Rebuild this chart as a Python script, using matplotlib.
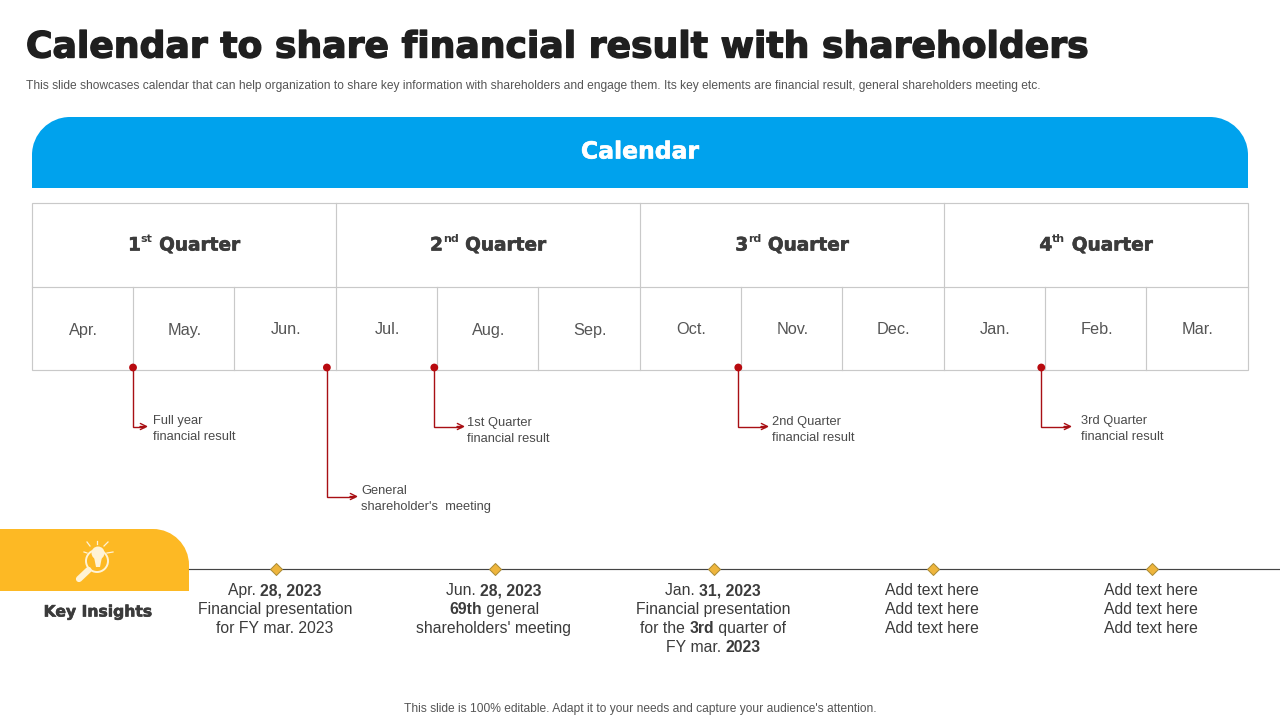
import matplotlib
matplotlib.use("Agg")
import matplotlib.pyplot as plt
import matplotlib.patheffects as pe
from matplotlib.patches import Circle, PathPatch, Polygon, Rectangle
from matplotlib.path import Path

plt.rcParams["font.family"] = ["Liberation Sans", "DejaVu Sans"]

title = "Calendar to share financial result with shareholders"
subtitle = ("This slide showcases calendar that can help organization to share key information with "
            "shareholders and engage them. Its key elements are financial result, general shareholders meeting etc.")
footer = "This slide is 100% editable. Adapt it to your needs and capture your audience's attention."

quarters = [("1", "st"), ("2", "nd"), ("3", "rd"), ("4", "th")]
months = ["Apr.", "May.", "Jun.", "Jul.", "Aug.", "Sep.", "Oct.", "Nov.", "Dec.", "Jan.", "Feb.", "Mar."]

# position of each event counted in months from the start of April
event_months = [0.997, 2.91, 3.97, 6.97, 9.96]
event_labels = [
    "Full year\nfinancial result",
    "General\nshareholder's  meeting",
    "1st Quarter\nfinancial result",
    "2nd Quarter\nfinancial result",
    "3rd Quarter\nfinancial result",
]

# (text, bold) runs for each line under the timeline
insights = [
    [[("Apr. ", False), ("28, 2023", True)],
     [("Financial presentation", False)],
     [("for FY mar. 2023", False)]],
    [[("Jun. ", False), ("28, 2023", True)],
     [("69th", True), (" general", False)],
     [("shareholders' meeting", False)]],
    [[("Jan. ", False), ("31, 2023", True)],
     [("Financial presentation", False)],
     [("for the ", False), ("3rd", True), (" quarter of", False)],
     [("FY mar. ", False), ("2023", True)]],
    [[("Add text here", False)], [("Add text here", False)], [("Add text here", False)]],
    [[("Add text here", False)], [("Add text here", False)], [("Add text here", False)]],
]

BLUE = "#00a2ed"
YELLOW = "#fdb924"
GRID = "#c9c9c9"
DARK = "#3b3b3b"
RED = "#a80f14"
ICON = "#fff3d6"
WIDE = ["DejaVu Sans"]

fig = plt.figure(figsize=(12.8, 7.2), dpi=100)
ax = fig.add_axes([0, 0, 1, 1])
ax.set_xlim(0, 1280)
ax.set_ylim(720, 0)
ax.axis("off")


def px(size):
    return size * 0.72


def heavy(color, width=0.45):
    return [pe.withStroke(linewidth=width, foreground=color)]


def runs_line(cx, y, runs, size, color=DARK):
    # centred line made of normal and bold pieces, y is the baseline
    renderer = fig.canvas.get_renderer()
    pieces = []
    for txt, bold in runs:
        t = ax.text(0, y, txt.replace(" ", "\u00a0"), fontsize=px(size), color=color,
                    fontweight="bold" if bold else "normal", va="baseline", ha="left")
        w = t.get_window_extent(renderer).width
        pieces.append((t, w))
    x = cx - sum(w for _, w in pieces) / 2
    for t, w in pieces:
        t.set_x(x)
        x += w


def tab(x0, x1, y0, y1, r, color, both=True):
    k = 0.5523 * r
    verts = [(x0, y1)]
    codes = [Path.MOVETO]
    if both:
        verts += [(x0, y0 + r), (x0, y0 + r - k), (x0 + r - k, y0), (x0 + r, y0)]
        codes += [Path.LINETO, Path.CURVE4, Path.CURVE4, Path.CURVE4]
    else:
        verts += [(x0, y0)]
        codes += [Path.LINETO]
    verts += [(x1 - r, y0), (x1 - r + k, y0), (x1, y0 + r - k), (x1, y0 + r), (x1, y1), (x0, y1)]
    codes += [Path.LINETO, Path.CURVE4, Path.CURVE4, Path.CURVE4, Path.LINETO, Path.CLOSEPOLY]
    ax.add_patch(PathPatch(Path(verts, codes), facecolor=color, edgecolor="none"))


# header texts
ax.text(26, 47.5, title, fontsize=px(36.15), fontweight="bold", family=WIDE, color="#1f1f1f", va="center", ha="left",
        path_effects=heavy("#1f1f1f", 1.0))
ax.text(26, 85.5, subtitle, fontsize=px(11.97), color="#555555", va="center", ha="left")
tab(32, 1248, 117, 188, 38, BLUE)
ax.text(640, 152, "Calendar", fontsize=px(23.5), fontweight="bold", family=WIDE, color="white",
        va="center", ha="center", path_effects=heavy("white"))

# calendar table
left, right = 32, 1248
top, mid, bottom = 203.2, 286.7, 370.2
month_w = (right - left) / len(months)
ax.add_patch(Rectangle((left, top), right - left, bottom - top, fill=False, edgecolor=GRID, lw=0.85))
ax.plot([left, right], [mid, mid], color=GRID, lw=0.85)
for i, month in enumerate(months):
    x = left + i * month_w
    if i > 0:
        ax.plot([x - 0.4, x - 0.4], [top if i % 3 == 0 else mid, bottom], color=GRID, lw=0.85)
    ax.text(x + month_w / 2 + 0.5, 334.5, month, fontsize=px(16.2), color="#555555", va="baseline", ha="center")

renderer = fig.canvas.get_renderer()
for i, (num, sup) in enumerate(quarters):
    cx = left + (i + 0.5) * 3 * month_w
    a = ax.text(0, 250.5, num, fontsize=px(18.5), fontweight="bold", family=WIDE, color=DARK, va="baseline", ha="left",
                path_effects=heavy(DARK))
    b = ax.text(0, 242.5, sup, fontsize=px(11), fontweight="bold", family=WIDE, color=DARK, va="baseline", ha="left")
    c = ax.text(0, 250.5, "\u00a0Quarter", fontsize=px(18.5), fontweight="bold", family=WIDE, color=DARK,
                va="baseline", ha="left", path_effects=heavy(DARK))
    wa = a.get_window_extent(renderer).width
    wb = b.get_window_extent(renderer).width
    wc = c.get_window_extent(renderer).width
    x = cx - (wa + wb + wc) / 2
    a.set_x(x)
    b.set_x(x + wa)
    c.set_x(x + wa + wb)

# event callouts
drop_y = [426.5, 496.5, 426.5, 426.5, 426.5]
label_x = [153, 361, 467, 772, 1081]
label_y = [429, 499, 431, 430, 429]
arrow_end = [148, 358, 465, 769, 1072]
for m, text, dy, lx, ly, ax_end in zip(event_months, event_labels, drop_y, label_x, label_y, arrow_end):
    x = left + m * month_w
    ax.plot([x, x, ax_end - 4], [367.5, dy, dy], color=RED, lw=1.0, solid_joinstyle="miter")
    ax.annotate("", xy=(ax_end, dy), xytext=(ax_end - 8, dy),
                arrowprops=dict(arrowstyle="->", color=RED, lw=1.0, mutation_scale=11, shrinkA=0, shrinkB=0))
    ax.add_patch(Circle((x, 367.5), 3.9, facecolor="#b80a0f", edgecolor="none", zorder=5))
    ax.text(lx, ly, text, fontsize=px(12.9), color="#4a4a4a", va="center", ha="left", linespacing=1.38)

# key insights tab with its icon
tab(0, 189, 529, 591, 36, YELLOW, both=False)
ax.add_patch(Circle((97, 561), 11, fill=False, edgecolor=ICON, lw=1.4))
ax.plot([88.5, 79], [570, 579], color=ICON, lw=4.5, solid_capstyle="round")
ax.add_patch(Circle((98, 553), 6.5, facecolor=ICON, edgecolor="none"))
ax.add_patch(Polygon([(94, 557), (102, 557), (100, 567), (96, 567)], facecolor=ICON, edgecolor="none"))
for x0, y0, x1, y1 in [(90, 546, 87, 542), (97, 544, 97, 541), (104, 546, 108, 542),
                       (107, 553, 113, 552), (87, 553, 84, 552)]:
    ax.plot([x0, x1], [y0, y1], color=ICON, lw=0.9)
ax.text(98, 612, "Key Insights", fontsize=px(15.6), fontweight="bold", family=WIDE, color=DARK,
        va="center", ha="center", path_effects=heavy(DARK))

# timeline
ax.plot([189, 1280], [569, 569], color="#444444", lw=0.85, zorder=1)
centers = [276, 495, 714, 933, 1152]
for cx, lines in zip(centers, insights):
    ax.plot([cx], [569], marker="D", ms=6.2, mfc="#eeb53c", mec="#a98a35", mew=0.7, zorder=3)
    for j, runs in enumerate(lines):
        runs_line(cx - 1, 595.3 + j * 19, runs, 15.7)

ax.text(640, 709.3, footer, fontsize=px(12), color="#555555", va="center", ha="center")

fig.savefig("out.png", dpi=100)
